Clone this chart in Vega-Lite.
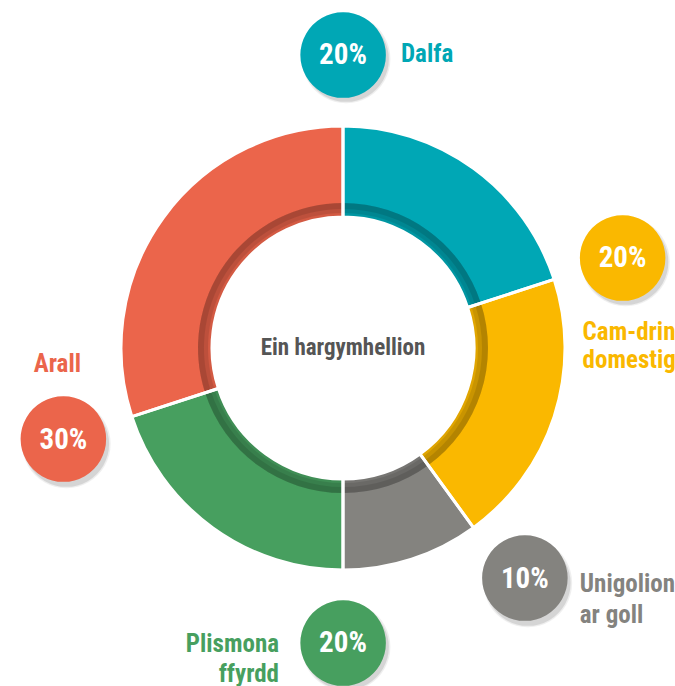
{
  "$schema": "https://vega.github.io/schema/vega-lite/v6.json",
  "width": 664,
  "height": 676,
  "padding": {"left": 11, "top": 10, "right": 0, "bottom": 0},
  "autosize": {"type": "none"},
  "background": "white",
  "config": {"view": {"stroke": null}, "text": {"font": "Roboto Condensed, Roboto, sans-serif"}},
  "data": {"values": [
    {"k": 1, "name": "Dalfa", "lines": ["Dalfa"], "share": 0.2},
    {"k": 2, "name": "Cam-drin domestig", "lines": ["Cam-drin", "domestig"], "share": 0.2},
    {"k": 3, "name": "Unigolion ar goll", "lines": ["Unigolion", "ar goll"], "share": 0.1},
    {"k": 4, "name": "Plismona ffyrdd", "lines": ["Plismona", "ffyrdd"], "share": 0.2},
    {"k": 5, "name": "Arall", "lines": ["Arall"], "share": 0.3}
  ]},
  "transform": [{"stack": "share", "groupby": [], "sort": [{"field": "k", "order": "ascending"}], "as": ["s0", "s1"]}],
  "encoding": {
    "theta": {"field": "s0", "type": "quantitative", "stack": null, "scale": {"domain": [0, 1], "range": [0, 6.283185307]}},
    "color": {"field": "name", "type": "nominal", "legend": null, "scale": {"domain": ["Dalfa", "Cam-drin domestig", "Unigolion ar goll", "Plismona ffyrdd", "Arall"], "range": ["#00A7B5", "#FAB800", "#84837F", "#479F5F", "#EB654B"]}}
  },
  "layer": [
    {"mark": {"type": "arc", "innerRadius": 131, "outerRadius": 222}, "encoding": {"theta2": {"field": "s1"}}},
    {"mark": {"type": "arc", "innerRadius": 131, "outerRadius": 145, "opacity": 0.1}, "encoding": {"theta2": {"field": "s1"}, "color": {"value": "#000"}}},
    {"mark": {"type": "arc", "innerRadius": 135, "outerRadius": 145, "opacity": 0.1}, "encoding": {"theta2": {"field": "s1"}, "color": {"value": "#000"}}},
    {"mark": {"type": "arc", "innerRadius": 139, "outerRadius": 145, "opacity": 0.1}, "encoding": {"theta2": {"field": "s1"}, "color": {"value": "#000"}}},
    {"mark": {"type": "arc", "innerRadius": 131, "outerRadius": 222, "fillOpacity": 0, "stroke": "white", "strokeWidth": 3}, "encoding": {"theta2": {"field": "s1"}, "color": {"value": "white"}}},
    {"transform": [{"filter": "datum.k != 3"}], "mark": {"type": "text", "radius": 294, "align": "center", "baseline": "middle", "font": "DejaVu Sans", "fontSize": 116, "dx": 3, "dy": 0, "opacity": 0.06}, "encoding": {"text": {"value": "●"}, "color": {"value": "#000"}}},
    {"transform": [{"filter": "datum.k != 3"}], "mark": {"type": "text", "radius": 294, "align": "center", "baseline": "middle", "font": "DejaVu Sans", "fontSize": 112, "dx": 3, "dy": 0, "opacity": 0.1}, "encoding": {"text": {"value": "●"}, "color": {"value": "#000"}}},
    {"transform": [{"filter": "datum.k != 3"}], "mark": {"type": "text", "radius": 294, "align": "center", "baseline": "middle", "font": "DejaVu Sans", "fontSize": 112, "dy": -4.5}, "encoding": {"text": {"value": "●"}}},
    {"transform": [{"filter": "datum.k != 3"}], "mark": {"type": "text", "radius": 294, "align": "center", "baseline": "alphabetic", "fontSize": 29, "fontWeight": "bold", "dy": 10}, "encoding": {"text": {"field": "share", "type": "quantitative", "format": ".0%"}, "color": {"value": "white"}}},
    {"transform": [{"filter": "datum.k == 3"}], "mark": {"type": "text", "radius": 294, "align": "center", "baseline": "middle", "font": "DejaVu Sans", "fontSize": 116, "dx": 12, "dy": -8, "opacity": 0.06}, "encoding": {"text": {"value": "●"}, "color": {"value": "#000"}}},
    {"transform": [{"filter": "datum.k == 3"}], "mark": {"type": "text", "radius": 294, "align": "center", "baseline": "middle", "font": "DejaVu Sans", "fontSize": 112, "dx": 12, "dy": -8, "opacity": 0.1}, "encoding": {"text": {"value": "●"}, "color": {"value": "#000"}}},
    {"transform": [{"filter": "datum.k == 3"}], "mark": {"type": "text", "radius": 294, "align": "center", "baseline": "middle", "font": "DejaVu Sans", "fontSize": 112, "dx": 9, "dy": -12.5}, "encoding": {"text": {"value": "●"}}},
    {"transform": [{"filter": "datum.k == 3"}], "mark": {"type": "text", "radius": 294, "align": "center", "baseline": "alphabetic", "fontSize": 29, "fontWeight": "bold", "dx": 9, "dy": 2}, "encoding": {"text": {"field": "share", "type": "quantitative", "format": ".0%"}, "color": {"value": "white"}}},
    {"transform": [{"filter": "datum.k == 1"}], "mark": {"type": "text", "radius": 294, "align": "left", "baseline": "alphabetic", "fontSize": 25, "fontWeight": "bold", "dx": 58, "dy": 8}, "encoding": {"text": {"field": "lines"}}},
    {"transform": [{"filter": "datum.k == 2"}], "mark": {"type": "text", "radius": 294, "align": "left", "baseline": "alphabetic", "fontSize": 25, "fontWeight": "bold", "dx": -40, "dy": 83, "lineHeight": 28}, "encoding": {"text": {"field": "lines"}}},
    {"transform": [{"filter": "datum.k == 3"}], "mark": {"type": "text", "radius": 294, "align": "left", "baseline": "alphabetic", "fontSize": 25, "fontWeight": "bold", "dx": 64, "dy": 6, "lineHeight": 31}, "encoding": {"text": {"field": "lines"}}},
    {"transform": [{"filter": "datum.k == 4"}], "mark": {"type": "text", "radius": 294, "align": "right", "baseline": "alphabetic", "fontSize": 25, "fontWeight": "bold", "dx": -64, "dy": 10, "lineHeight": 30}, "encoding": {"text": {"field": "lines"}}},
    {"transform": [{"filter": "datum.k == 5"}], "mark": {"type": "text", "radius": 294, "align": "center", "baseline": "alphabetic", "fontSize": 25, "fontWeight": "bold", "dx": -6, "dy": -67}, "encoding": {"text": {"field": "lines"}}},
    {"transform": [{"filter": "datum.k == 1"}], "mark": {"type": "text", "align": "center", "baseline": "alphabetic", "fontSize": 23, "fontWeight": "bold", "dy": 7}, "encoding": {"text": {"value": "Ein hargymhellion"}, "theta": null, "color": {"value": "#555555"}}}
  ]
}
